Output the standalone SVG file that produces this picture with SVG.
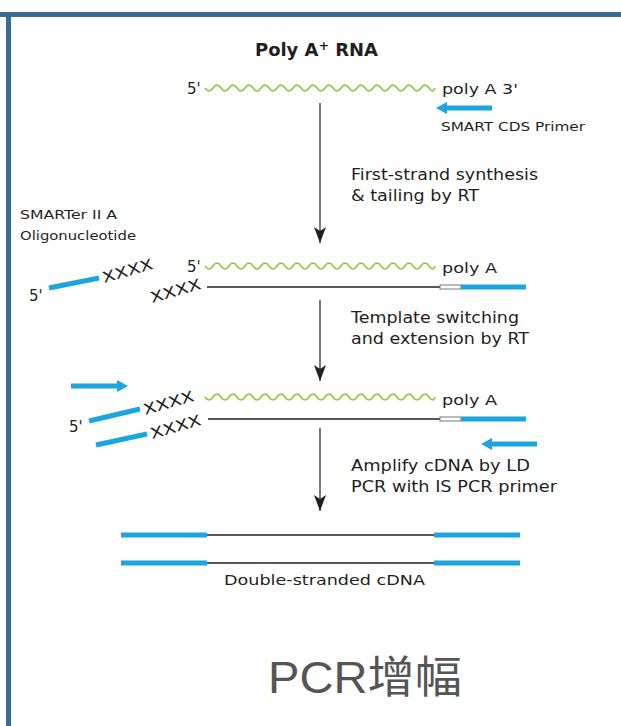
<svg xmlns="http://www.w3.org/2000/svg" width="621" height="726" viewBox="0 0 621 726">
<style>
.t{font-family:"DejaVu Sans","Liberation Sans",Arial,sans-serif;fill:#231f20}
.wave{fill:none;stroke:#8dc63f;stroke-width:1.6}
.blk{stroke:#231f20;stroke-width:1.3;fill:none}
.blue{stroke:#1ba6e0;stroke-width:5;fill:none}
.conn{stroke:#231f20;stroke-width:1.2;fill:none}
</style>
<defs>
<marker id="ah" markerWidth="16" markerHeight="12" refX="16" refY="6" orient="auto" markerUnits="userSpaceOnUse" viewBox="0 0 16 12">
<path d="M0,0 L4,6 L0,12 L16,6 Z" fill="#231f20"/>
</marker>
<path id="w" d="M0,0 q4,6 8,0 t8,0 t8,0 t8,0 t8,0 t8,0 t8,0 t8,0 t8,0 t8,0 t8,0 t8,0 t8,0 t8,0 t8,0 t8,0 t8,0 t8,0 t8,0 t8,0 t8,0 t8,0 t8,0 t8,0 t8,0 t8,0 t8,0 t8,0 t6,0"/>
</defs>
<rect width="621" height="726" fill="#fff"/>
<g id="frame">
<rect x="0" y="12" width="621" height="5" fill="#3b6a92"/>
<rect x="6" y="12" width="5" height="714" fill="#3b6a92"/>
</g>
<g id="title"><text class="t" x="255" y="56" font-size="17" font-weight="bold" textLength="123" lengthAdjust="spacingAndGlyphs">Poly A<tspan font-size="12" dy="-6">+</tspan><tspan dy="6"> RNA</tspan></text></g>
<g id="rna">
<text class="t" x="187" y="94" font-size="15">5'</text>
<use href="#w" x="205" y="88" class="wave"/>
<text class="t" x="442" y="94" font-size="14" textLength="76" lengthAdjust="spacingAndGlyphs">poly A 3'</text>
</g>
<g id="cds-primer">
<path d="M492,108 H446" class="blue"/>
<path d="M436,108 L447,102 L447,114 Z" fill="#1ba6e0"/>
<text class="t" x="441" y="131" font-size="12" textLength="144" lengthAdjust="spacingAndGlyphs">SMART CDS Primer</text>
</g>
<g id="oligo-label">
<text class="t" x="20" y="219" font-size="12" textLength="97" lengthAdjust="spacingAndGlyphs">SMARTer II A</text>
<text class="t" x="20" y="240" font-size="12" textLength="116" lengthAdjust="spacingAndGlyphs">Oligonucleotide</text>
</g>
<g id="oligo">
<text class="t" x="29" y="301" font-size="15">5'</text>
<path d="M49,288 L99,278" class="blue"/>
<text class="t" font-size="15" transform="translate(104,283) rotate(-16)" textLength="52" lengthAdjust="spacingAndGlyphs">XXXX</text>
</g>
<g id="first-strand">
<text class="t" x="187" y="272" font-size="15">5'</text>
<use href="#w" x="205" y="266" class="wave"/>
<text class="t" x="442" y="273" font-size="14" textLength="55" lengthAdjust="spacingAndGlyphs">poly A</text>
<text class="t" font-size="15" transform="translate(152,303) rotate(-16)" textLength="52" lengthAdjust="spacingAndGlyphs">XXXX</text>
<path d="M207,287 H440" class="blk"/>
<rect x="440" y="285" width="21" height="4" fill="#fff" stroke="#777" stroke-width="1"/>
<path d="M461,287 H526" class="blue" stroke-width="4.5"/>
</g>
<g id="switched">
<path d="M71,386 H117" class="blue"/>
<path d="M128,386 L117,380 L117,392 Z" fill="#1ba6e0"/>
<text class="t" x="69" y="432" font-size="15">5'</text>
<path d="M89,421 L140,409" class="blue"/>
<text class="t" font-size="15" transform="translate(145,415) rotate(-16)" textLength="52" lengthAdjust="spacingAndGlyphs">XXXX</text>
<path d="M96,445 L147,434" class="blue"/>
<text class="t" font-size="15" transform="translate(152,439) rotate(-16)" textLength="52" lengthAdjust="spacingAndGlyphs">XXXX</text>
<use href="#w" x="205" y="397" class="wave"/>
<text class="t" x="442" y="405" font-size="14" textLength="55" lengthAdjust="spacingAndGlyphs">poly A</text>
<path d="M208,419 H440" class="blk"/>
<rect x="440" y="417" width="21" height="4" fill="#fff" stroke="#777" stroke-width="1"/>
<path d="M461,419 H526" class="blue" stroke-width="4.5"/>
<path d="M537,444 L491,444" class="blue"/>
<path d="M481,444 L492,438 L492,450 Z" fill="#1ba6e0"/>
</g>
<g id="ds-cdna">
<path d="M121,535 H207" class="blue"/>
<path d="M207,535 H434" class="blk"/>
<path d="M434,535 H520" class="blue"/>
<path d="M121,563 H207" class="blue"/>
<path d="M207,563 H434" class="blk"/>
<path d="M434,563 H520" class="blue"/>
<text class="t" x="224" y="585" font-size="14" textLength="201" lengthAdjust="spacingAndGlyphs">Double-stranded cDNA</text>
</g>
<g id="connectors">
<path d="M320,103 V243" class="conn" marker-end="url(#ah)"/>
<path d="M320,300 V381" class="conn" marker-end="url(#ah)"/>
<path d="M320,428 V511" class="conn" marker-end="url(#ah)"/>
<text class="t" x="351" y="180" font-size="15" textLength="187" lengthAdjust="spacingAndGlyphs">First-strand synthesis</text>
<text class="t" x="351" y="201" font-size="15" textLength="128" lengthAdjust="spacingAndGlyphs">&amp; tailing by RT</text>
<text class="t" x="351" y="323" font-size="15" textLength="168" lengthAdjust="spacingAndGlyphs">Template switching</text>
<text class="t" x="351" y="344" font-size="15" textLength="178" lengthAdjust="spacingAndGlyphs">and extension by RT</text>
<text class="t" x="351" y="471" font-size="15" textLength="179" lengthAdjust="spacingAndGlyphs">Amplify cDNA by LD</text>
<text class="t" x="351" y="492" font-size="15" textLength="206" lengthAdjust="spacingAndGlyphs">PCR with IS PCR primer</text>
</g>
<g id="caption"><text x="268" y="693" font-size="44" fill="#555" font-family="'Liberation Sans','Noto Sans CJK SC',sans-serif" textLength="194" lengthAdjust="spacingAndGlyphs">PCR增幅</text></g>
</svg>
